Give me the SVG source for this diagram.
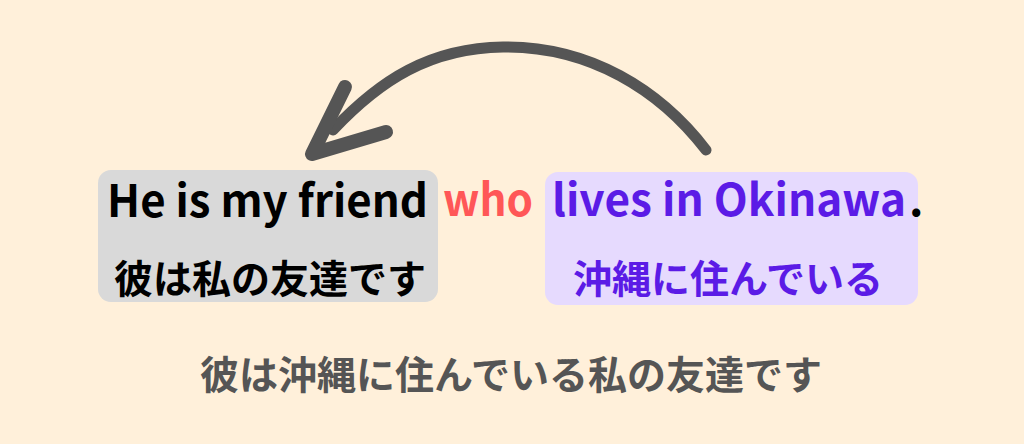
<svg xmlns="http://www.w3.org/2000/svg" width="1024" height="444" viewBox="0 0 1024 444">
<style>
.t{font-family:"Noto Sans CJK JP","Noto Sans",sans-serif;font-weight:700}
.en{font-size:44.5px}
.jp{font-size:39px}
.arrow{fill:none;stroke:#555555;stroke-linecap:round;stroke-linejoin:round}
</style>
<rect width="1024" height="444" fill="#FFF0DA"/>
<g id="connectors">
<path class="arrow" stroke-width="11" d="M 706 150 C 660 90, 590 46, 503 47 C 430 48, 380 80, 333 130"/>
<polyline class="arrow" stroke-width="14" points="345,87 312,154 386,132"/>
</g>
<g id="main-clause">
<rect x="98" y="170" width="340" height="132" rx="13" fill="#D9D9D9"/>
<text class="t en" x="107" y="217" fill="#000000" textLength="321" lengthAdjust="spacingAndGlyphs">He is my friend</text>
<text class="t jp" x="270" y="293" text-anchor="middle" fill="#000000">彼は私の友達です</text>
</g>
<g id="relative-pronoun">
<text class="t en" x="443" y="216" fill="#FF5757" textLength="90" lengthAdjust="spacingAndGlyphs">who</text>
</g>
<g id="relative-clause">
<rect x="545" y="172" width="373" height="133" rx="13" fill="#E6DAFE"/>
<text class="t en" x="552" y="216" fill="#5B1BE6" textLength="354" lengthAdjust="spacingAndGlyphs">lives in Okinawa</text>
<text class="t en" x="909" y="216" fill="#000000">.</text>
<text class="t jp" x="728" y="293" text-anchor="middle" fill="#5B1BE6">沖縄に住んでいる</text>
</g>
<g id="translation">
<text class="t jp" x="511" y="389" text-anchor="middle" fill="#555555">彼は沖縄に住んでいる私の友達です</text>
</g>
</svg>
